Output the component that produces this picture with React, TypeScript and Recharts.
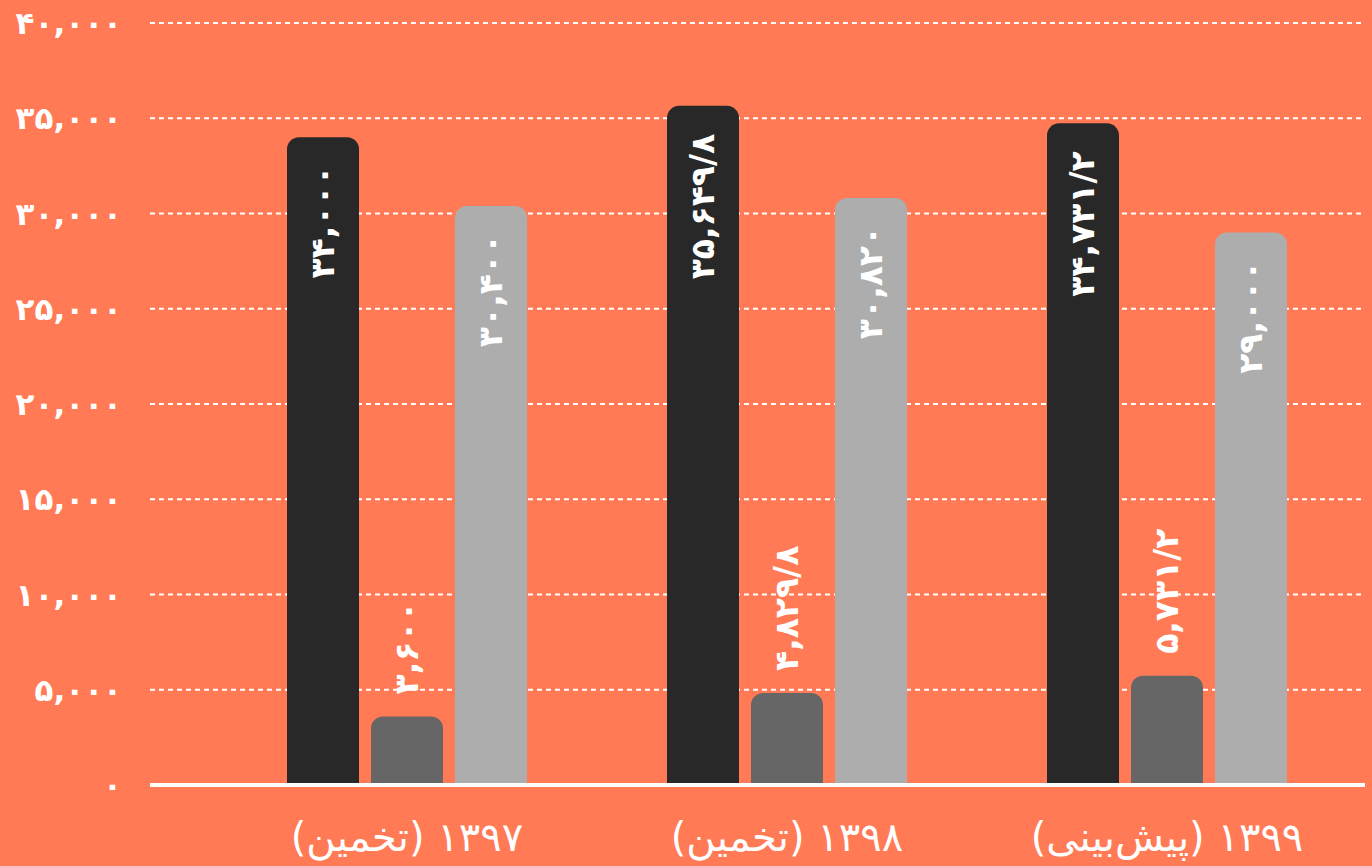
import React from 'react';
import { BarChart, Bar, XAxis, YAxis, CartesianGrid, LabelList } from 'recharts';

const categories = ['۱۳۹۷ (تخمین)', '۱۳۹۸ (تخمین)', '۱۳۹۹ (پیش‌بینی)'];
const seriesDark = [34000, 35649.8, 34731.2];
const seriesMid = [3600, 4829.8, 5731.2];
const seriesLight = [30400, 30820, 29000];
const yTicks = [0, 5000, 10000, 15000, 20000, 25000, 30000, 35000, 40000];

const data = categories.map((c, i) => ({
  name: c,
  dark: seriesDark[i],
  mid: seriesMid[i],
  light: seriesLight[i],
}));

const FA = '۰۱۲۳۴۵۶۷۸۹';
const toFa = (s: string) => s.replace(/[0-9]/g, (d) => FA[Number(d)]);
const fmt = (v: number) => {
  const [ip, dp] = String(v).split('.');
  const withCommas = ip.replace(/\B(?=(\d{3})+(?!\d))/g, ',');
  return toFa(dp ? `${withCommas}/${dp}` : withCommas);
};

const BG = '#FF7A55';
const FONT = '"DejaVu Sans", sans-serif';

const makeLabel = (mode: 'inside' | 'outside') => (props: any) => {
  const { x, y, width, value } = props;
  const cx = x + width / 2;
  const py = mode === 'inside' ? y + 28 : y - 22;
  return (
    <text
      x={cx}
      y={py}
      transform={`rotate(-90 ${cx} ${py})`}
      textAnchor={mode === 'inside' ? 'end' : 'start'}
      dominantBaseline="central"
      fill="#ffffff"
      fontFamily={FONT}
      fontWeight="bold"
      fontSize={33}
    >
      {fmt(value)}
    </text>
  );
};

const XTick = (props: any) => {
  const { x, y, payload } = props;
  return (
    <text
      x={x}
      y={y + 58}
      textAnchor="middle"
      fill="#ffffff"
      fontFamily={FONT}
      fontSize={40}
      style={{ direction: 'rtl', unicodeBidi: 'embed' }}
    >
      {payload.value}
    </text>
  );
};

const YTick = (props: any) => {
  const { x, y, payload } = props;
  return (
    <text
      x={x}
      y={y}
      textAnchor="end"
      dominantBaseline="central"
      fill="#ffffff"
      fontFamily={FONT}
      fontWeight="bold"
      fontSize={31}
    >
      {fmt(payload.value)}
    </text>
  );
};

export default function App() {
  return (
    <div style={{ position: 'absolute', left: 0, top: 0, width: 1372, height: 866, background: BG }}>
      <BarChart
        width={1372}
        height={866}
        data={data}
        margin={{ top: 23, right: 7, bottom: 0, left: 0 }}
        barSize={72}
        barGap={12}
      >
        <CartesianGrid
          horizontal
          vertical={false}
          stroke="#ffffff"
          strokeWidth={2}
          strokeDasharray="5 4"
        />
        <XAxis
          dataKey="name"
          height={81}
          tick={<XTick />}
          tickLine={false}
          axisLine={{ stroke: '#ffffff', strokeWidth: 4 }}
          padding={{ left: 67, right: 8 }}
          interval={0}
        />
        <YAxis
          width={150}
          domain={[0, 40000]}
          ticks={yTicks}
          tick={<YTick />}
          tickLine={false}
          axisLine={false}
          tickSize={0}
          tickMargin={28}
          interval={0}
        />
        <Bar dataKey="dark" fill="#282828" radius={[12, 12, 0, 0]} isAnimationActive={false}>
          <LabelList dataKey="dark" content={makeLabel('inside')} />
        </Bar>
        <Bar dataKey="mid" fill="#666666" radius={[12, 12, 0, 0]} isAnimationActive={false}>
          <LabelList dataKey="mid" content={makeLabel('outside')} />
        </Bar>
        <Bar dataKey="light" fill="#ADADAD" radius={[12, 12, 0, 0]} isAnimationActive={false}>
          <LabelList dataKey="light" content={makeLabel('inside')} />
        </Bar>
      </BarChart>
    </div>
  );
}
